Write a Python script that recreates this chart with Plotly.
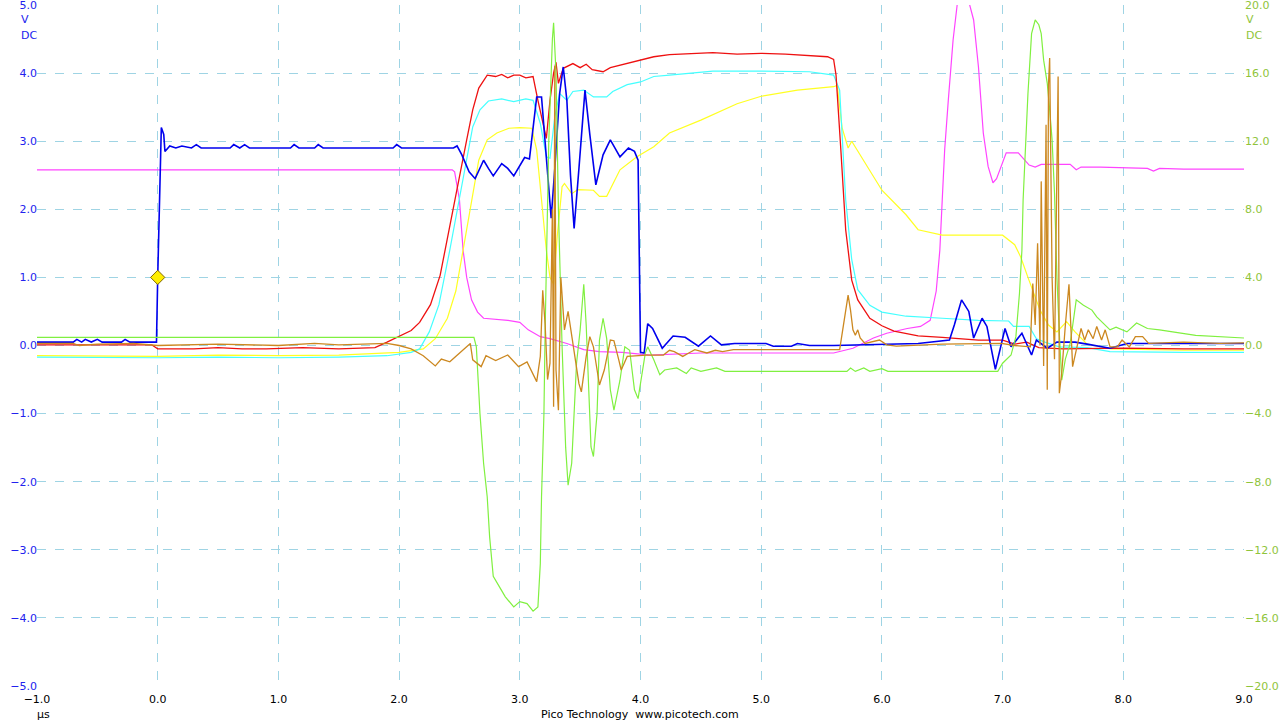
import plotly.graph_objects as go

# ---------------- data (time in µs) ----------------
blue_pts = [(-1.0,0.05),(-0.7,0.05),(-0.67,0.09),(-0.63,0.05),(-0.6,0.09),(-0.55,0.05),(-0.5,0.09),(-0.46,0.05),
    (-0.3,0.05),(-0.27,0.09),(-0.23,0.05),(-0.01,0.05),(0.0,1.0),(0.02,2.6),(0.03,3.2),(0.05,3.1),(0.06,2.85),
    (0.1,2.93),(0.15,2.9),(0.2,2.93),(0.28,2.9),(0.32,2.95),(0.36,2.9),(0.6,2.9),(0.63,2.95),(0.68,2.9),(0.72,2.95),
    (0.76,2.9),(1.1,2.9),(1.13,2.95),(1.17,2.9),(1.3,2.9),(1.33,2.95),(1.37,2.9),(1.95,2.9),(1.98,2.95),(2.02,2.9),
    (2.45,2.9),(2.48,2.93),(2.52,2.8),(2.58,2.55),(2.63,2.45),(2.70,2.72),(2.74,2.6),(2.78,2.49),(2.85,2.67),
    (2.90,2.6),(2.95,2.49),(3.04,2.76),(3.08,2.74),(3.11,3.2),(3.14,3.65),(3.18,3.65),(3.21,3.0),(3.24,2.38),
    (3.26,1.87),(3.29,2.6),(3.33,3.7),(3.36,4.09),(3.39,3.6),(3.42,2.5),(3.45,1.72),(3.49,2.6),(3.54,3.75),
    (3.58,3.1),(3.63,2.36),(3.69,2.8),(3.75,3.02),(3.83,2.77),(3.90,2.90),(3.95,2.85),(3.98,2.72),(4.0,-0.1),
    (4.03,-0.11),(4.06,0.32),(4.1,0.25),(4.18,-0.04),(4.27,0.14),(4.37,0.12),(4.48,-0.01),(4.58,0.14),(4.67,0.01),
    (4.78,0.03),(5.04,0.03),(5.1,-0.01),(5.25,-0.01),(5.3,0.03),(5.4,0.0),(5.6,0.0),(6.0,0.02),(6.3,0.03),
    (6.56,0.08),(6.6,0.3),(6.66,0.67),(6.72,0.50),(6.76,0.11),(6.83,0.40),(6.87,0.28),(6.94,-0.35),(7.02,0.25),
    (7.07,-0.02),(7.16,0.18),(7.24,-0.14),(7.28,0.08),(7.37,-0.04),(7.45,0.05),(7.6,0.05),(7.7,0.02),(7.89,-0.04),
    (8.03,0.03),(8.5,0.03),(9.0,0.03)]

red_pts = [(-1.0,0.01),(-0.05,0.01),(0.0,-0.05),(0.3,-0.05),(0.5,-0.03),(0.7,-0.05),(0.9,-0.05),(1.2,-0.03),
    (1.5,-0.05),(1.8,-0.03),(1.9,0.05),(2.0,0.14),(2.1,0.22),(2.17,0.34),(2.26,0.6),(2.34,1.03),(2.38,1.40),
    (2.45,1.99),(2.5,2.5),(2.56,3.02),(2.61,3.46),(2.66,3.78),(2.73,3.97),(2.8,3.95),(2.85,3.98),(2.9,3.93),
    (2.95,3.97),(3.0,3.97),(3.05,3.93),(3.11,3.95),(3.15,3.60),(3.21,3.12),(3.22,3.04),(3.25,3.6),(3.28,4.0),
    (3.30,4.16),(3.32,3.85),(3.36,4.07),(3.44,4.14),(3.5,4.08),(3.55,4.13),(3.6,4.05),(3.69,4.02),(3.75,4.08),
    (3.89,4.14),(4.0,4.19),(4.11,4.24),(4.24,4.27),(4.4,4.28),(4.6,4.3),(4.8,4.28),(5.0,4.29),(5.2,4.28),
    (5.4,4.26),(5.55,4.24),(5.6,4.2),(5.62,3.97),(5.66,2.87),(5.70,1.70),(5.75,0.96),(5.80,0.67),(5.90,0.40),
    (6.0,0.29),(6.1,0.21),(6.2,0.17),(6.3,0.14),(6.5,0.12),(6.8,0.08),(7.0,0.08),(7.1,0.02),(7.2,0.05),
    (7.3,-0.03),(7.5,-0.05),(8.0,-0.04),(8.5,-0.05),(9.0,-0.05)]

cyan_pts = [(-1.0,-0.17),(0.0,-0.18),(0.5,-0.17),(1.0,-0.18),(1.5,-0.17),(1.9,-0.15),(2.1,-0.1),(2.17,-0.05),
    (2.25,0.2),(2.33,0.6),(2.42,1.40),(2.50,2.14),(2.56,2.72),(2.61,3.21),(2.67,3.46),(2.74,3.59),(2.85,3.62),
    (2.95,3.58),(3.05,3.62),(3.11,3.60),(3.17,3.26),(3.22,2.77),(3.25,2.75),(3.29,3.36),(3.33,3.70),(3.39,3.60),
    (3.44,3.73),(3.53,3.75),(3.61,3.65),(3.72,3.65),(3.77,3.73),(3.89,3.83),(4.0,3.87),(4.11,3.95),(4.24,3.97),
    (4.4,4.0),(4.6,4.03),(5.0,4.03),(5.4,4.02),(5.6,3.97),(5.65,3.75),(5.7,2.14),(5.75,1.26),(5.8,0.82),
    (5.9,0.59),(6.0,0.49),(6.2,0.43),(6.5,0.40),(6.8,0.37),(7.05,0.36),(7.09,0.28),(7.22,0.28),(7.28,0.1),
    (7.35,0.05),(7.47,-0.02),(7.7,-0.03),(7.89,-0.09),(8.5,-0.1),(9.0,-0.1)]

yellow_pts = [(-1.0,-0.15),(0.0,-0.16),(0.5,-0.14),(1.0,-0.15),(1.5,-0.14),(2.0,-0.1),(2.2,-0.05),(2.3,0.1),
    (2.4,0.4),(2.47,0.8),(2.53,1.40),(2.59,2.04),(2.66,2.72),(2.73,3.02),(2.81,3.12),(2.91,3.19),(3.0,3.20),
    (3.10,3.19),(3.14,2.87),(3.18,2.14),(3.22,1.40),(3.25,1.0),(3.28,0.9),(3.31,1.6),(3.35,2.33),(3.37,2.38),
    (3.43,2.23),(3.48,2.29),(3.61,2.28),(3.66,2.19),(3.72,2.19),(3.83,2.58),(3.97,2.77),(4.11,2.92),(4.24,3.12),
    (4.5,3.31),(4.8,3.55),(5.0,3.66),(5.3,3.75),(5.6,3.80),(5.63,3.82),(5.67,3.2),(5.72,2.9),(5.75,3.0),
    (5.85,2.72),(6.0,2.28),(6.2,1.92),(6.3,1.70),(6.5,1.62),(7.0,1.62),(7.1,1.48),(7.15,1.3),(7.21,1.0),
    (7.31,0.52),(7.38,0.3),(7.45,0.2),(7.53,0.35),(7.6,0.2),(7.7,0.02),(7.9,-0.05),(8.5,-0.07),(9.0,-0.07)]

pink_pts = [(-1.0,2.58),(2.44,2.58),(2.46,2.55),(2.50,2.14),(2.53,1.40),(2.56,1.0),(2.6,0.67),(2.65,0.49),
    (2.7,0.40),(2.9,0.37),(3.0,0.34),(3.07,0.23),(3.17,0.13),(3.25,0.10),(3.39,0.03),(3.53,-0.06),(3.66,-0.09),
    (3.85,-0.10),(4.08,-0.14),(4.5,-0.11),(5.0,-0.11),(5.5,-0.11),(5.6,-0.11),(5.76,-0.04),(5.93,0.11),
    (6.04,0.18),(6.21,0.25),(6.32,0.28),(6.4,0.37),(6.45,0.8),(6.48,1.4),(6.50,2.14),(6.52,2.87),(6.55,3.60),
    (6.59,4.49),(6.63,5.1),(6.68,5.3),(6.72,5.05),(6.76,4.78),(6.80,4.09),(6.84,3.12),(6.88,2.63),(6.92,2.39),
    (6.95,2.45),(7.03,2.83),(7.13,2.83),(7.17,2.75),(7.22,2.65),(7.27,2.62),(7.32,2.66),(7.56,2.66),(7.61,2.58),
    (7.65,2.62),(7.81,2.62),(8.2,2.60),(8.25,2.56),(8.3,2.60),(8.5,2.59),(9.0,2.59)]

# right-axis channels (±20 scale)
green_pts = [(-1.0,0.48),(2.62,0.48),(2.64,-0.08),(2.67,-4.0),(2.70,-6.92),(2.73,-8.88),(2.75,-11.24),
    (2.78,-13.56),(2.84,-14.28),(2.88,-14.76),(2.95,-15.36),(3.0,-15.04),(3.06,-15.16),(3.11,-15.6),(3.15,-15.36),
    (3.17,-12.8),(3.18,-8.88),(3.20,-4.0),(3.21,0.92),(3.24,12.0),(3.27,18.0),(3.28,18.96),(3.30,16.0),(3.32,8.0),
    (3.35,0.0),(3.38,-6.0),(3.40,-8.2),(3.43,-6.92),(3.47,-1.04),(3.50,0.92),(3.53,3.6),(3.55,1.2),(3.59,-5.96),
    (3.61,-6.52),(3.64,-4.0),(3.66,0.32),(3.69,1.6),(3.72,0.4),(3.75,-2.6),(3.78,-3.8),(3.83,-2.04),(3.87,-0.08),
    (3.91,-0.28),(3.95,-2.6),(3.98,-3.12),(4.01,-1.84),(4.04,-0.44),(4.06,-0.08),(4.11,-0.84),(4.16,-1.72),
    (4.20,-1.44),(4.30,-1.32),(4.38,-1.64),(4.42,-1.32),(4.5,-1.52),(4.63,-1.32),(4.7,-1.52),(5.0,-1.52),
    (5.71,-1.52),(5.74,-1.32),(5.78,-1.52),(5.85,-1.32),(5.9,-1.52),(6.0,-1.36),(6.05,-1.52),(6.96,-1.52),
    (7.0,-1.04),(7.07,-0.56),(7.11,0.52),(7.14,3.08),(7.16,5.6),(7.17,8.56),(7.19,12.08),(7.21,14.8),(7.24,18.32),
    (7.27,19.12),(7.30,18.84),(7.32,18.32),(7.34,16.76),(7.37,15.4),(7.39,13.84),(7.41,12.08),(7.43,8.96),
    (7.45,4.0),(7.47,0.72),(7.49,-2.04),(7.52,-0.8),(7.56,0.12),(7.61,2.68),(7.67,2.36),(7.74,2.08),(7.78,1.68),
    (7.89,0.92),(7.94,1.08),(8.03,0.8),(8.11,1.32),(8.2,1.0),(8.3,0.92),(8.6,0.6),(9.0,0.44)]

orange_pts = [(-1.0,0.12),(-0.7,0.12),(-0.65,0.0),(-0.5,0.08),(-0.2,0.12),(0.0,0.0),(0.5,0.08),(1.0,0.0),
    (1.3,0.12),(1.5,0.04),(1.9,0.12),(2.0,0.0),(2.1,-0.2),(2.2,-0.6),(2.3,-1.2),(2.35,-0.8),(2.42,-0.96),
    (2.53,-0.28),(2.59,0.12),(2.61,-0.84),(2.68,-1.24),(2.72,-0.6),(2.8,-0.88),(2.9,-0.56),(2.99,-1.24),
    (3.06,-0.96),(3.14,-2.12),(3.17,-0.64),(3.19,3.24),(3.21,1.2),(3.23,-2.0),(3.25,-1.04),(3.27,8.0),(3.28,-3.6),
    (3.29,16.4),(3.30,-1.44),(3.32,-3.8),(3.34,4.0),(3.37,0.92),(3.40,2.0),(3.44,0.0),(3.49,-2.24),(3.51,-2.72),
    (3.55,-0.64),(3.58,0.52),(3.61,-0.08),(3.66,-2.32),(3.70,-1.44),(3.75,0.32),(3.78,0.28),(3.82,-0.84),
    (3.84,-1.44),(3.89,-0.64),(4.05,-0.56),(4.19,-0.56),(4.24,-0.28),(4.28,-0.36),(4.35,-0.64),(4.4,-0.44),
    (4.45,-0.24),(4.55,-0.44),(4.62,-0.28),(4.68,-0.36),(4.77,-0.24),(5.65,-0.24),(5.68,1.12),(5.72,2.96),
    (5.74,2.08),(5.76,0.92),(5.78,0.6),(5.80,0.92),(5.82,0.44),(5.86,0.12),(5.98,0.32),(6.04,0.04),(6.12,-0.04),
    (6.5,0.08),(6.99,0.12),(7.1,0.0),(7.23,-0.08),(7.25,3.64),(7.27,1.2),(7.29,6.0),(7.31,0.0),(7.32,9.64),
    (7.34,-1.2),(7.36,12.96),(7.37,-2.6),(7.38,15.32),(7.39,16.88),(7.41,4.0),(7.43,-0.8),(7.45,10.0),(7.46,15.8),
    (7.47,-2.8),(7.49,-1.6),(7.52,1.2),(7.55,3.6),(7.58,-1.24),(7.65,1.0),(7.68,0.32),(7.71,0.92),(7.75,0.4),
    (7.78,1.12),(7.82,0.32),(7.85,0.92),(7.89,-0.08),(7.95,-0.08),(7.99,0.32),(8.05,-0.08),(8.10,0.52),
    (8.16,0.52),(8.21,0.12),(8.5,0.2),(8.8,0.12),(9.0,0.16)]

trigger_t = [0.0]
trigger_v = [1.0]

x_ticks = [-1, 0, 1, 2, 3, 4, 5, 6, 7, 8, 9]

# ---------------- figure ----------------
fig = go.Figure()

def add(pts, color, width, axis="y"):
    fig.add_trace(go.Scatter(x=[p[0] for p in pts], y=[p[1] for p in pts], mode="lines",
                             line=dict(color=color, width=width), yaxis=axis,
                             hoverinfo="skip", showlegend=False))

add(pink_pts, "#ff44ff", 1.2)
add(yellow_pts, "#ffff22", 1.2)
add(cyan_pts, "#44ffff", 1.2)
add(red_pts, "#ee1111", 1.3)
add(green_pts, "#80f040", 1.2, "y2")
add(orange_pts, "#cc8820", 1.3, "y2")
add(blue_pts, "#0000ee", 1.6)

fig.add_trace(go.Scatter(x=trigger_t, y=trigger_v, mode="markers",
                         marker=dict(symbol="diamond", size=11, color="#ffee00",
                                     line=dict(color="#806600", width=1)),
                         hoverinfo="skip", showlegend=False))

grid = "#9fd4e4"
font = "DejaVu Sans"
W, H = 1280, 720
L, R, T, B = 37, 36, 5, 34
fig.update_layout(
    width=W, height=H,
    margin=dict(l=L, r=R, t=T, b=B, autoexpand=False),
    paper_bgcolor="white", plot_bgcolor="white",
    font=dict(family=font, size=11, color="black"),
    xaxis=dict(range=[-1, 9], tickvals=x_ticks, tickformat=".1f", showgrid=True, gridcolor=grid,
               griddash="dash", gridwidth=1, zeroline=False, showline=False, ticks="",
               ticklabelstandoff=5, automargin=False, ticklabeloverflow="allow",
               tickfont=dict(size=11, color="black")),
    yaxis=dict(range=[-5, 5], tick0=-5, dtick=1, tickformat=".1f", showgrid=True, gridcolor=grid,
               griddash="dash", gridwidth=1, zeroline=False, showline=False, ticks="",
               ticklabelstandoff=-1, automargin=False, ticklabeloverflow="allow",
               tickfont=dict(size=11, color="#2222ee")),
    yaxis2=dict(range=[-20, 20], tick0=-20, dtick=4, tickformat=".1f", overlaying="y", side="right",
                showgrid=False, zeroline=False, showline=False, ticks="",
                ticklabelstandoff=0, ticklabeloverflow="allow",
                automargin=False, tickfont=dict(size=11, color="#8fc43a")),
)

anns = [
    dict(x=25, y=20, text="V", color="#2222ee"),
    dict(x=29, y=35, text="DC", color="#2222ee"),
    dict(x=1250, y=20, text="V", color="#8fc43a"),
    dict(x=1254, y=35, text="DC", color="#8fc43a"),
    dict(x=43, y=714, text="µs", color="black"),
    dict(x=640, y=714, text="Pico Technology  www.picotech.com", color="black"),
]
pw, ph = W - L - R, H - T - B
for a in anns:
    fig.add_annotation(x=(a["x"] - L) / pw, y=(H - B - a["y"]) / ph, xref="paper", yref="paper",
                       text=a["text"], showarrow=False, xanchor="center", yanchor="middle",
                       font=dict(family=font, size=11, color=a["color"]))

fig.write_html("out.html", config={"displayModeBar": False},
               post_script="document.body.style.margin='0';")
